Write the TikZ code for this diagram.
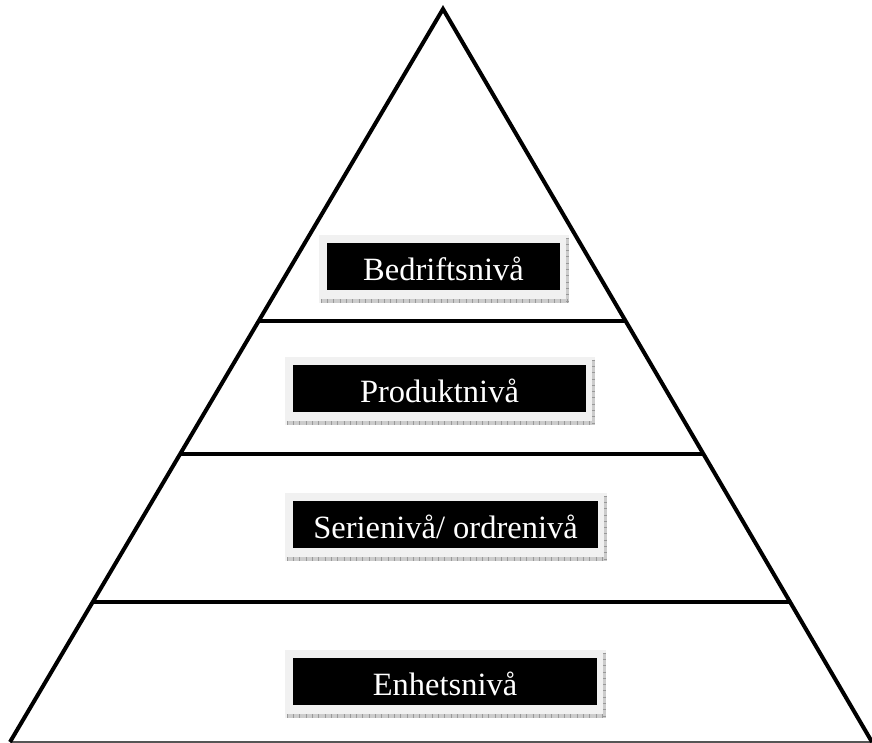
\documentclass[tikz,border=0pt]{standalone}
\usepackage{fontspec}
\setmainfont{Liberation Serif}
\usetikzlibrary{calc,backgrounds}
\definecolor{framegray}{HTML}{F1F1F1}
\definecolor{stripgray}{HTML}{CCCCCC}
\definecolor{tickgray}{HTML}{999999}
\definecolor{basegray}{HTML}{555555}
\begin{document}
\begin{tikzpicture}[x=1pt,y=-1pt,
  levelbox/.style={rectangle, fill=black, text=white, inner sep=0pt,
    text height=37pt, text depth=9pt, minimum height=47pt, anchor=south,
    font=\fontsize{32.5}{32.5}\selectfont},
  side/.style={line width=4pt, line join=miter},
  divider/.style={line width=3.6pt},
  baseline/.style={line width=2pt, basegray}]
\useasboundingbox (0,0) rectangle (872,743);
\coordinate (apex) at (443,9);
\coordinate (bl) at (10,742);
\coordinate (br) at (872,742);
% sides and base
\draw[baseline] (bl) -- (br);
\draw[side] (bl) -- (apex) -- (br);
% dividers
\foreach \t/\n in {0.4257/d1, 0.607/d2, 0.809/d3}{
  \coordinate (\n l) at ($(apex)!\t!(bl)$);
  \coordinate (\n r) at ($(apex)!\t!(br)$);
  \draw[divider] (\n l) -- (\n r);
}
% level boxes
\node[levelbox, minimum width=233pt] (b1) at (443.5,290) {Bedriftsnivå};
\node[levelbox, minimum width=293pt] (b2) at (439.5,412) {Produktnivå};
\node[levelbox, minimum width=305pt] (b3) at (445.5,548) {Serienivå/ ordrenivå};
\node[levelbox, minimum width=304pt] (b4) at (445,705) {Enhetsnivå};
\begin{scope}[on background layer]
\foreach \b in {b1,b2,b3,b4}{
  \fill[framegray] ($(\b.north west)+(-8,-8)$) rectangle ($(\b.south east)+(9,13)$);
  \fill[stripgray] ($(\b.south west)+(-6,9)$) rectangle ($(\b.south east)+(9,13)$);
  \fill[stripgray] ($(\b.north east)+(6,-5)$) rectangle ($(\b.south east)+(9,13)$);
  \draw[tickgray, line width=4pt, dash pattern=on 0.8pt off 5.5pt]
    ($(\b.south west)+(-6,11)$) -- ($(\b.south east)+(9,11)$);
  \draw[tickgray, line width=3pt, dash pattern=on 0.8pt off 5.5pt]
    ($(\b.north east)+(7.5,-5)$) -- ($(\b.south east)+(7.5,13)$);
}
\end{scope}
\end{tikzpicture}
\end{document}
